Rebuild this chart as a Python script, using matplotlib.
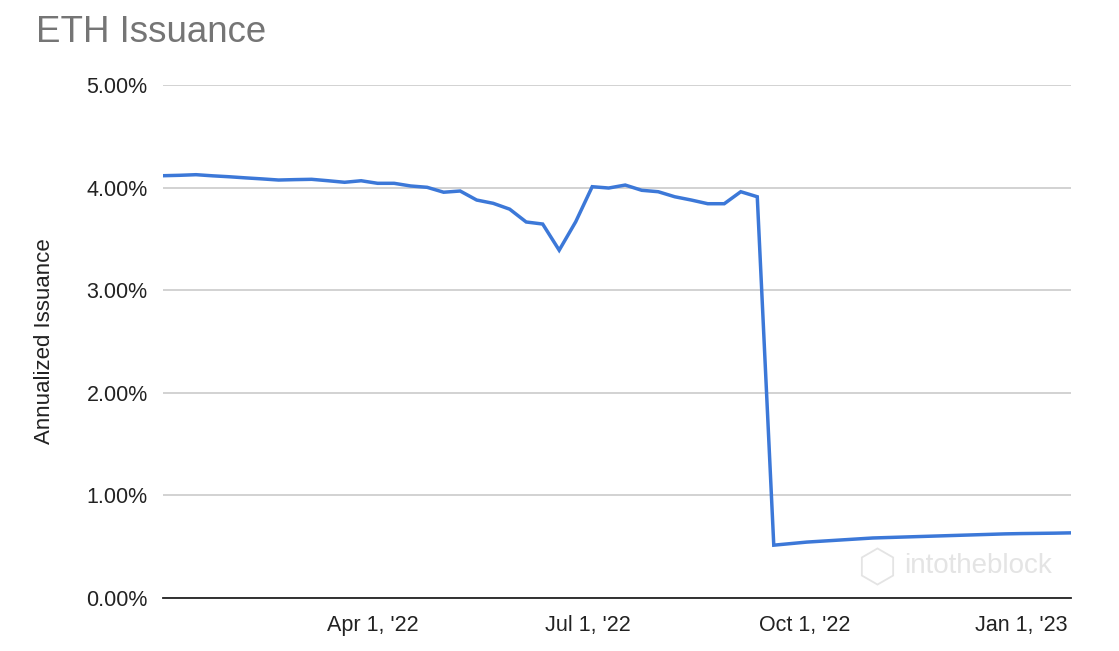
import numpy as np
import pandas as pd
import matplotlib
matplotlib.use("Agg")
import matplotlib.pyplot as plt
from matplotlib.ticker import FuncFormatter
from matplotlib.lines import Line2D

plt.rcParams['font.family'] = ['Liberation Sans', 'DejaVu Sans']

# weekly annualized issuance (%), Jan 2 2022 .. Jan 22 2023
start_date = "2022-01-02"
pre_merge = [4.116, 4.12, 4.126, 4.115, 4.106, 4.095, 4.085, 4.074, 4.078, 4.081,
             4.067, 4.052, 4.067, 4.042, 4.042, 4.016, 4.003, 3.955, 3.967, 3.879,
             3.847, 3.79, 3.665, 3.645, 3.39, 3.667, 4.009, 3.996, 4.025, 3.974,
             3.96, 3.911, 3.879, 3.843, 3.843, 3.96, 3.911]
post_merge = [0.515, 0.53, 0.545, 0.555, 0.565, 0.575, 0.585, 0.59, 0.595, 0.60,
              0.605, 0.61, 0.615, 0.62, 0.625, 0.628, 0.63, 0.632, 0.635]
issuance = pre_merge + post_merge
dates = pd.date_range(start_date, periods=len(issuance), freq="7D")

tick_dates = ["2022-04-01", "2022-07-01", "2022-10-01", "2023-01-01"]
tick_labels = ["Apr 1, '22", "Jul 1, '22", "Oct 1, '22", "Jan 1, '23"]
y_ticks = [0, 1, 2, 3, 4, 5]

fig = plt.figure(figsize=(11.19, 6.51), dpi=100)
ax = fig.add_axes([0.1457, 0.0814, 0.8113, 0.788])

ax.plot(dates, issuance, color="#3c78d8", lw=2.5, solid_joinstyle="miter")

ax.set_ylim(0, 5)
ax.set_yticks(y_ticks)
ax.yaxis.set_major_formatter(FuncFormatter(lambda v, p: f"{v:.2f}%"))
ax.set_xlim(dates[0], dates[-1])
ax.set_xticks(pd.to_datetime(tick_dates))
ax.set_xticklabels(tick_labels)

ax.grid(axis="y", color="#c6c6c6", lw=1.1)
ax.set_axisbelow(True)
for s in ["top", "right", "left"]:
    ax.spines[s].set_visible(False)
ax.spines["bottom"].set_color("#222222")
ax.spines["bottom"].set_linewidth(1.3)
ax.tick_params(axis="both", length=0, labelsize=15.5, colors="#222222")
ax.tick_params(axis="y", pad=11)
ax.tick_params(axis="x", pad=12)

ax.set_ylabel("Annualized Issuance", fontsize=16, color="#222222")
ax.yaxis.set_label_coords(-0.119, 0.5)

fig.text(36 / 1119, 1 - 33 / 651, "ETH Issuance", fontsize=26.4, color="#757575",
         ha="left", va="center")

# watermark
fig.text(904 / 1119, 1 - 566 / 651, "intotheblock", fontsize=20, color="#e4e4e4",
         ha="left", va="center")
logo = Line2D([877 / 1119], [1 - 566 / 651], transform=fig.transFigure, marker="h",
              ms=26, mfc="none", mec="#e4e4e4", mew=1.3, ls="none")
fig.add_artist(logo)

fig.savefig("out.png", dpi=100)
